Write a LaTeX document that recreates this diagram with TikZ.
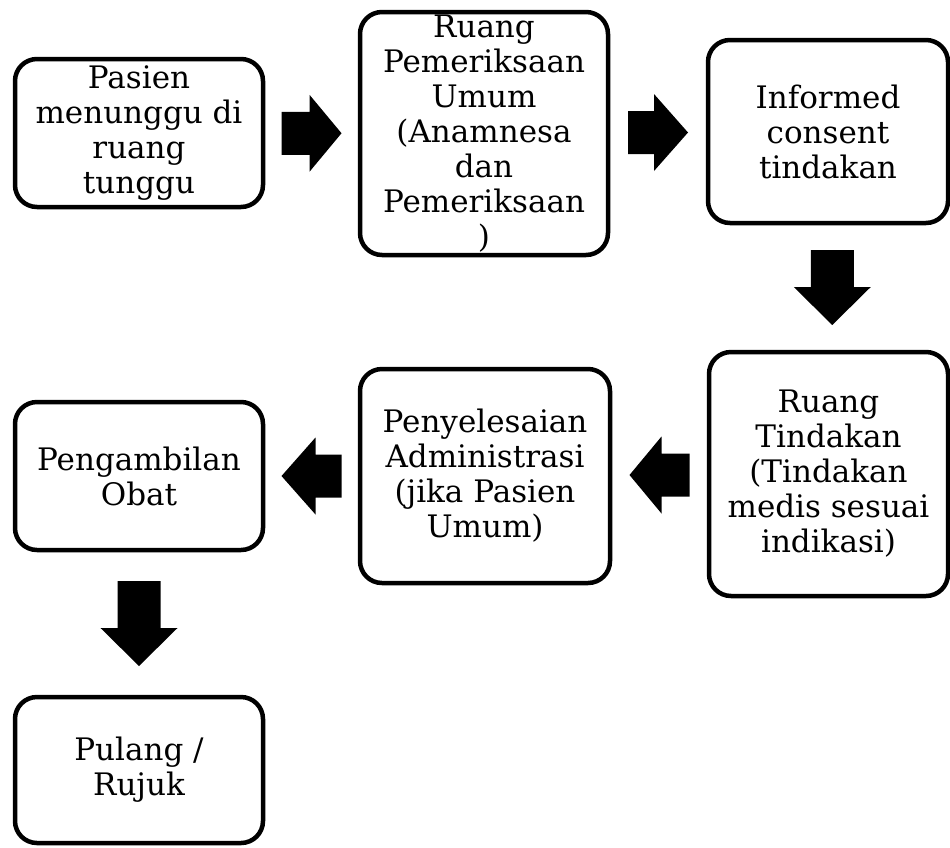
\documentclass[tikz,border=0pt]{standalone}
\usepackage{fontspec}
\setmainfont{DejaVu Serif}
\usetikzlibrary{calc}
\begin{document}
\begin{tikzpicture}[x=1pt,y=-1pt,
  box/.style={draw, line width=4.5pt, rounded corners=22pt, inner sep=0pt,
    align=center, font=\fontsize{31}{35}\selectfont},
  pics/barrow/.style args={#1/#2}{code={
    \fill (-#1,-21.5) -- (#1-#2,-21.5) -- (#1-#2,-38.5) -- (#1,0)
      -- (#1-#2,38.5) -- (#1-#2,21.5) -- (-#1,21.5) -- cycle;}}]
\useasboundingbox (0,0) rectangle (950,847);

\node[box, minimum width=248pt, minimum height=148pt] (b1) at (139,133)
  {Pasien\\menunggu di\\ruang\\tunggu};
\node[box, minimum width=248pt, minimum height=243pt] (b2) at (484,133.5)
  {Ruang\\Pemeriksaan\\Umum\\(Anamnesa\\dan\\Pemeriksaan\\)};
\node[box, minimum width=240pt, minimum height=183pt] (b3) at (828,131.5)
  {Informed\\consent\\tindakan};
\node[box, minimum width=239pt, minimum height=244pt] (b4) at (828.5,474)
  {Ruang\\Tindakan\\(Tindakan\\medis sesuai\\indikasi)};
\node[box, minimum width=250pt, minimum height=214pt] (b5) at (485,476)
  {Penyelesaian\\Administrasi\\(jika Pasien\\Umum)};
\node[box, minimum width=248pt, minimum height=148pt] (b6) at (139,476)
  {Pengambilan\\Obat};
\node[box, minimum width=248pt, minimum height=146pt] (b7) at (139,770)
  {Pulang /\\Rujuk};

\pic at ($(b1.east)!0.5!(b2.west)$) {barrow={30/32}};
\pic at ($(b2.east)!0.5!(b3.west)$) {barrow={30/34}};
\pic[rotate=-90] at ($(b3.south)!0.5!(b4.north)+(4,0)$) {barrow={37.5/38}};
\pic[rotate=180] at ($(b4.west)!0.5!(b5.east)$) {barrow={30/32}};
\pic[rotate=180] at ($(b5.west)!0.5!(b6.east)$) {barrow={30/34}};
\pic[rotate=-90] at ($(b6.south)!0.5!(b7.north)$) {barrow={42.5/38}};
\end{tikzpicture}
\end{document}
